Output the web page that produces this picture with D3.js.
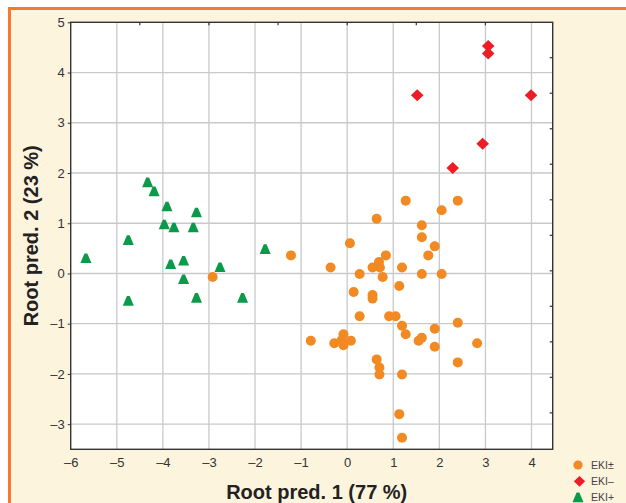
<!DOCTYPE html>
<html>
<head>
<meta charset="utf-8">
<script src="https://cdn.jsdelivr.net/npm/d3@7"></script>
<style>
  html, body { margin: 0; padding: 0; background: #ffffff; }
  svg { display: block; font-family: "Liberation Sans", Arial, sans-serif; }
</style>
</head>
<body>
<svg id="chart" width="626" height="503"></svg>
<script>
// Discriminant scores: root 1 (x) and root 2 (y) for each group
const groupNames = ["EKI±", "EKI–", "EKI+"];

const ekiPlusMinus = [
  [-2.92, -0.07], [-1.22, 0.36], [-0.36, 0.12], [-0.79, -1.34], [0.06, 0.60],
  [0.27, -0.01], [0.14, -0.37], [0.27, -0.85], [-0.28, -1.39], [-0.08, -1.21],
  [-0.12, -1.33], [0.08, -1.34], [-0.08, -1.43], [0.64, 1.09], [0.55, 0.12],
  [0.69, 0.23], [0.71, 0.12], [0.84, 0.36], [0.77, -0.07], [0.55, -0.43],
  [0.55, -0.50], [0.91, -0.85], [1.05, -0.85], [1.19, -1.04], [1.27, -1.21],
  [0.64, -1.71], [0.70, -1.87], [0.70, -2.01], [1.19, -2.01], [1.13, -2.80],
  [1.19, -3.27], [1.27, 1.45], [1.13, -0.25], [1.19, 0.12], [1.62, 0.96],
  [1.62, 0.72], [1.90, 0.54], [1.76, 0.36], [1.62, -0.01], [2.05, -0.01],
  [2.05, 1.26], [2.40, 1.45], [2.40, -0.98], [1.90, -1.10], [1.55, -1.34],
  [1.62, -1.28], [1.90, -1.46], [2.40, -1.77], [2.82, -1.39]
];

const ekiMinus = [
  [3.06, 4.53], [3.06, 4.38], [1.52, 3.55], [3.99, 3.55], [2.94, 2.58], [2.29, 2.10]
];

const ekiPlus = [
  [-5.67, 0.30], [-4.75, 0.66], [-4.75, -0.55], [-4.33, 1.81], [-4.19, 1.63],
  [-3.91, 1.33], [-3.97, 0.97], [-3.76, 0.91], [-3.27, 1.21], [-3.34, 0.91],
  [-3.83, 0.18], [-3.55, 0.25], [-3.55, -0.12], [-3.27, -0.49], [-2.76, 0.12],
  [-2.27, -0.49], [-1.78, 0.48]
];

const xTicks = [-6, -5, -4, -3, -2, -1, 0, 1, 2, 3, 4];
const yTicks = [-3, -2, -1, 0, 1, 2, 3, 4, 5];
// Unlabelled minor ticks on the top and right frame edges
const topMarks = [-4.5, -3, -1.5, 0, 1.5, 3];
const rightMarks = [4.295, 3.588, 2.881, 2.174, 1.467, 0.76, 0.053, -0.654, -1.361, -2.068, -2.775];

const svg = d3.select("#chart");

// Page frame: cream panel with an orange rule along the top and left
svg.append("rect").attr("x", 9.5).attr("y", 8.5).attr("width", 700).attr("height", 600)
  .attr("fill", "#fdf4de").attr("stroke", "#f37a2f").attr("stroke-width", 3);

const plot = { left: 70.7, right: 552.7, top: 22.3, bottom: 449.3 };
const x = d3.scaleLinear().domain([-6, 4.46]).range([plot.left, plot.right]);
const y = d3.scaleLinear().domain([-3.5, 5]).range([plot.bottom, plot.top]);

const fmt = d => d < 0 ? "\u2013" + Math.abs(d) : String(d);

svg.append("rect")
  .attr("x", plot.left).attr("y", plot.top)
  .attr("width", plot.right - plot.left).attr("height", plot.bottom - plot.top)
  .attr("fill", "#ffffff");

// Grid lines
const grid = svg.append("g").attr("stroke", "#c9c9c9").attr("stroke-width", 1.3);
grid.selectAll("line.v").data(xTicks.filter(t => t > -6)).join("line")
  .attr("x1", d => x(d)).attr("x2", d => x(d))
  .attr("y1", plot.top).attr("y2", plot.bottom);
grid.selectAll("line.h").data(yTicks.filter(t => t < 5)).join("line")
  .attr("class", "h")
  .attr("y1", d => y(d)).attr("y2", d => y(d))
  .attr("x1", plot.left).attr("x2", plot.right);

// Axes
const xAxis = svg.append("g")
  .attr("transform", `translate(0,${plot.bottom})`)
  .call(d3.axisBottom(x).tickValues(xTicks).tickSize(0).tickPadding(8).tickFormat(fmt));
const yAxis = svg.append("g")
  .attr("transform", `translate(${plot.left},0)`)
  .call(d3.axisLeft(y).tickValues(yTicks).tickSize(3).tickPadding(3).tickFormat(fmt));
[xAxis, yAxis].forEach(a => {
  a.select(".domain").remove();
  a.selectAll("text").attr("fill", "#333").style("font-size", "13px")
    .style("font-family", "'Liberation Sans', Arial, sans-serif");
  a.selectAll("line").attr("stroke", "#333");
});
xAxis.selectAll("text").attr("dy", "0.71em");

// Short inward ticks on top and right edges
svg.append("g").selectAll("line").data(topMarks).join("line")
  .attr("x1", d => x(d)).attr("x2", d => x(d))
  .attr("y1", plot.top).attr("y2", plot.top + 3)
  .attr("stroke", "#333").attr("stroke-width", 1.2);
svg.append("g").selectAll("line").data(rightMarks).join("line")
  .attr("y1", d => y(d)).attr("y2", d => y(d))
  .attr("x1", plot.right).attr("x2", plot.right - 3)
  .attr("stroke", "#333").attr("stroke-width", 1.2);

// Plot border
svg.append("rect")
  .attr("x", plot.left).attr("y", plot.top)
  .attr("width", plot.right - plot.left).attr("height", plot.bottom - plot.top)
  .attr("fill", "none").attr("stroke", "#333").attr("stroke-width", 1.4);

// Marker shapes
const colors = ["#f28a24", "#ee1d25", "#0b9a4a"];
const trianglePath = "M-5.5,4.6 L5.5,4.6 L1.4,-5 L-1.4,-5 Z";
const diamondPath = "M0,-6 L6.3,0 L0,6 L-6.3,0 Z";

const marks = svg.append("g");
marks.selectAll("circle").data(ekiPlusMinus).join("circle")
  .attr("cx", d => x(d[0])).attr("cy", d => y(d[1])).attr("r", 5)
  .attr("fill", colors[0]);
marks.selectAll("path.dia").data(ekiMinus).join("path")
  .attr("class", "dia")
  .attr("d", diamondPath)
  .attr("transform", d => `translate(${x(d[0])},${y(d[1])})`)
  .attr("fill", colors[1]);
marks.selectAll("path.tri").data(ekiPlus).join("path")
  .attr("class", "tri")
  .attr("d", trianglePath)
  .attr("transform", d => `translate(${x(d[0])},${y(d[1])})`)
  .attr("fill", colors[2]);

// Axis titles
svg.append("text")
  .attr("x", (plot.left + plot.right) / 2 + 5).attr("y", 499)
  .attr("text-anchor", "middle").attr("font-weight", "bold")
  .attr("font-size", 20).attr("fill", "#222")
  .text("Root pred. 1 (77 %)");
svg.append("text")
  .attr("transform", `translate(37.5,${(plot.top + plot.bottom) / 2}) rotate(-90)`)
  .attr("text-anchor", "middle").attr("font-weight", "bold")
  .attr("font-size", 20).attr("fill", "#222")
  .text("Root pred. 2 (23 %)");

// Legend
const legend = svg.append("g").attr("transform", "translate(578,465)");
const legendRows = legend.selectAll("g").data(groupNames).join("g")
  .attr("transform", (d, i) => `translate(0,${i * 16.3})`);
legendRows.each(function(d, i) {
  const g = d3.select(this);
  if (i === 0) g.append("circle").attr("r", 4.6).attr("fill", colors[0]);
  else if (i === 1) g.append("path").attr("d", diamondPath).attr("transform", "translate(1.5,0) scale(0.9)").attr("fill", colors[1]);
  else g.append("path").attr("d", trianglePath).attr("fill", colors[2]);
  g.append("text").attr("x", 13).attr("y", 3.6).attr("font-size", 10.5).attr("fill", "#444").text(d);
});
</script>
</body>
</html>
